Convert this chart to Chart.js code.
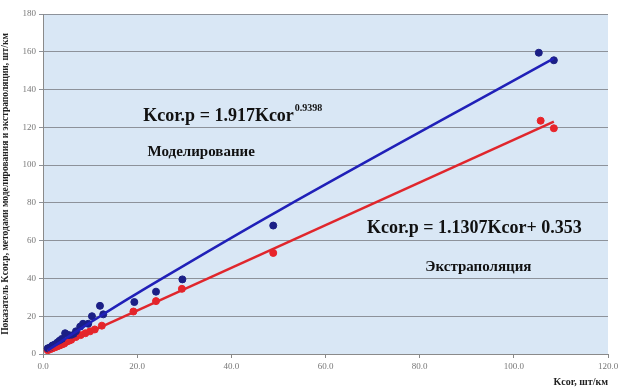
<!DOCTYPE html>
<html>
<head>
<meta charset="utf-8">
<script src="https://cdn.jsdelivr.net/npm/chart.js@4"></script>
<style>
  html, body { margin: 0; padding: 0; background: #fff; }
  #wrap { width: 618px; height: 388px; }
</style>
</head>
<body>
<div id="wrap"><canvas id="chart" width="618" height="388"></canvas></div>
<script>
// points (Kcor, Kcor.p)
const modelX = [1, 1.5, 2, 2.5, 3, 3.5, 4, 4.7, 5.5, 6.4, 7, 7.9, 8.5, 9.6, 10.4, 12.1, 12.8, 19.4, 24, 29.6, 48.9, 105.3, 108.5];
const modelY = [3, 3.5, 4.5, 5, 6, 7, 8, 11, 10, 10, 12, 14.5, 16, 16, 20, 25.5, 21, 27.5, 33, 39.5, 68, 159.5, 155.5];
const extraX = [1, 1.5, 2, 2.5, 3, 3.5, 4, 4.5, 5, 5.5, 6, 7, 8, 9, 10, 11, 12.5, 19.2, 24, 29.5, 48.9, 105.7, 108.5];
const extraY = [2, 2.5, 3, 3.5, 4, 4.5, 5, 5.5, 6.5, 7, 7.5, 9, 10, 11, 12, 13, 15, 22.5, 28, 34.5, 53.5, 123.5, 119.5];

// trend lines
const modelTrendX = [1, 10, 20, 50, 108.5];
const modelTrendY = [1.9, 16.6, 32.1, 75.8, 156.5];
const extraTrendX = [1, 108.5];
const extraTrendY = [1.5, 123];

const xTicks = [0, 20, 40, 60, 80, 100, 120];
const yTicks = [0, 20, 40, 60, 80, 100, 120, 140, 160, 180];

const toPts = (xs, ys) => xs.map((x, i) => ({ x: x, y: ys[i] }));

const serif = '"Liberation Serif", "DejaVu Serif", serif';

// фон области построения
const plotBg = {
  id: 'plotBg',
  beforeDraw(chart) {
    const { ctx, chartArea: a } = chart;
    ctx.save();
    ctx.fillStyle = '#d9e7f5';
    ctx.fillRect(a.left, a.top, a.right - a.left, a.bottom - a.top);
    ctx.restore();
  }
};

// подписи уравнений
const labels = {
  id: 'labels',
  afterDatasetsDraw(chart) {
    const { ctx, scales: { x, y } } = chart;
    ctx.save();
    ctx.fillStyle = '#111';
    ctx.textBaseline = 'middle';
    ctx.textAlign = 'left';

    ctx.font = 'bold 18px ' + serif;
    let px = x.getPixelForValue(21.3), py = y.getPixelForValue(126);
    const t1 = 'Kcor.p = 1.917Kcor';
    ctx.fillText(t1, px, py);
    const w1 = ctx.measureText(t1).width;
    ctx.font = 'bold 10px ' + serif;
    ctx.fillText('0.9398', px + w1 + 1, py - 8);

    ctx.font = 'bold 15px ' + serif;
    ctx.fillText('Моделирование', x.getPixelForValue(22.2), y.getPixelForValue(107));

    ctx.font = 'bold 18px ' + serif;
    ctx.fillText('Kcor.p = 1.1307Kcor+ 0.353', x.getPixelForValue(68.8), y.getPixelForValue(66.5));

    ctx.font = 'bold 15px ' + serif;
    ctx.fillText('Экстраполяция', x.getPixelForValue(81.2), y.getPixelForValue(46));
    ctx.restore();
  }
};

new Chart(document.getElementById('chart'), {
  type: 'scatter',
  data: {
    datasets: [
      {
        label: 'Моделирование',
        data: toPts(modelX, modelY),
        backgroundColor: '#1b1f86',
        borderColor: '#1b1f86',
        pointRadius: 3.5,
        order: 2
      },
      {
        label: 'Экстраполяция',
        data: toPts(extraX, extraY),
        backgroundColor: '#e8242a',
        borderColor: '#e8242a',
        pointRadius: 3.5,
        order: 2
      },
      {
        type: 'line',
        label: 'model trend',
        data: toPts(modelTrendX, modelTrendY),
        borderColor: '#2020b8',
        borderWidth: 2.5,
        pointRadius: 0,
        tension: 0.4,
        order: 1
      },
      {
        type: 'line',
        label: 'extra trend',
        data: toPts(extraTrendX, extraTrendY),
        borderColor: '#e0262c',
        borderWidth: 2.5,
        pointRadius: 0,
        order: 1
      }
    ]
  },
  options: {
    responsive: false,
    animation: false,
    layout: { padding: { left: 0, right: 10, top: 14, bottom: 0 } },
    plugins: { legend: { display: false }, tooltip: { enabled: false } },
    scales: {
      x: {
        type: 'linear',
        min: 0, max: 120,
        afterBuildTicks: s => { s.ticks = xTicks.map(v => ({ value: v })); },
        afterFit: s => { s.height = 34; s.paddingRight = 0; },
        grid: { drawOnChartArea: false, color: '#888', tickLength: 4 },
        border: { color: '#8a8a8a', width: 1 },
        ticks: {
          color: '#777',
          font: { family: serif, size: 9 },
          padding: 3,
          maxRotation: 0,
          callback: v => v.toFixed(1)
        },
        title: {
          display: true,
          text: 'Kcor, шт/км',
          align: 'end',
          color: '#222',
          font: { family: serif, size: 10, weight: 'bold' },
          padding: { top: 2, bottom: 0 }
        }
      },
      y: {
        type: 'linear',
        min: 0, max: 180,
        afterBuildTicks: s => { s.ticks = yTicks.map(v => ({ value: v })); },
        afterFit: s => { s.width = 43; },
        grid: { color: '#8d929a', lineWidth: 1, tickLength: 4 },
        border: { color: '#8a8a8a', width: 1 },
        ticks: {
          color: '#777',
          font: { family: serif, size: 9 },
          padding: 3
        },
        title: {
          display: true,
          text: 'Показатель Kcor.p, методами моделирования и экстраполяции, шт/км',
          color: '#222',
          font: { family: serif, size: 9.5, weight: 'bold' },
          padding: { top: 0, bottom: 4 }
        }
      }
    }
  },
  plugins: [plotBg, labels]
});
</script>
</body>
</html>
